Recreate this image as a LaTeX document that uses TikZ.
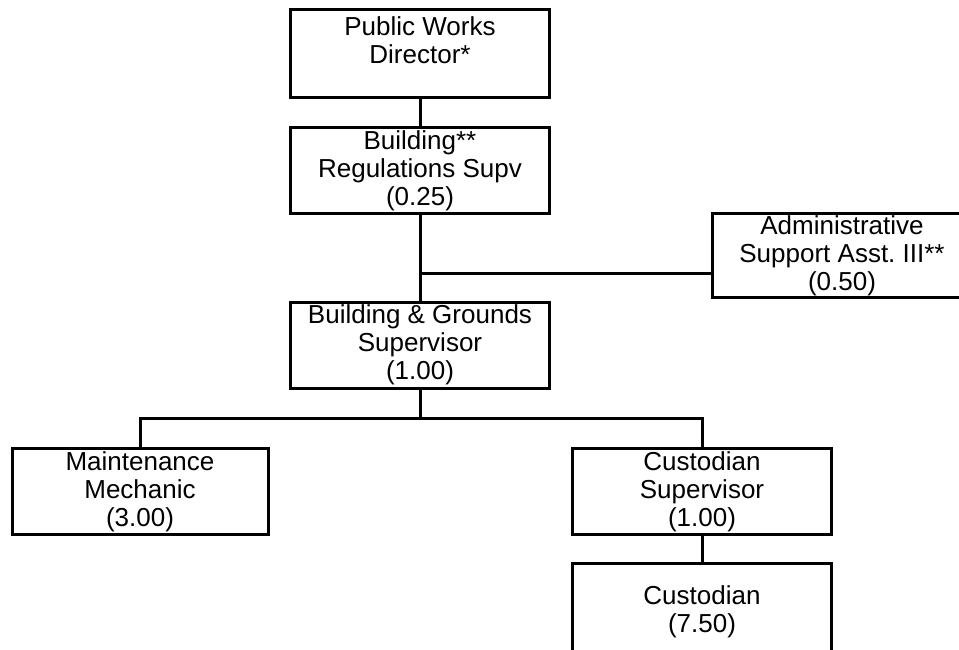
\documentclass[tikz,border=0pt]{standalone}
\usepackage{fontspec}
\setmainfont{Liberation Sans}
\frenchspacing
\tikzset{
  post/.style={draw, line width=3pt, minimum width=259pt, minimum height=86pt,
    inner sep=0pt, align=center, font=\fontsize{26}{28}\selectfont},
  link/.style={line width=3pt}
}
\begin{document}
\begin{tikzpicture}[x=1pt,y=-1pt]
\useasboundingbox (0,0) rectangle (959,650);
\clip (0,0) rectangle (959,650);
\node[post, minimum height=88pt] (pwd) at (420,54) {Public Works\\Director*\\\mbox{}};
\node[post] (brs) at (420,170.5) {Building**\\Regulations Supv\\(0.25)};
\node[post, minimum height=84pt] (adm) at (842,255.5) {Administrative\\Support Asst. III**\\(0.50)};
\node[post] (bgs) at (420,345) {Building \& Grounds\\Supervisor\\(1.00)};
\node[post, minimum width=256pt] (mm) at (140,491.5) {Maintenance\\Mechanic\\(3.00)};
\node[post] (cs) at (702,491.5) {Custodian\\Supervisor\\(1.00)};
\node[post, minimum height=88pt] (cu) at (702,607.5) {\mbox{}\\Custodian\\(7.50)};
\coordinate (j1) at (420,273);
\coordinate (j2) at (420,418);
\draw[link] (pwd) -- (brs);
\draw[link] (brs) -- (bgs);
\draw[link] (j1) -- (j1 -| adm.west);
\draw[link] (bgs) -- (j2);
\draw[link] (mm.north) -- (mm.north |- j2) -- (cs.north |- j2) -- (cs.north);
\draw[link] (cs) -- (cu);
\end{tikzpicture}
\end{document}
